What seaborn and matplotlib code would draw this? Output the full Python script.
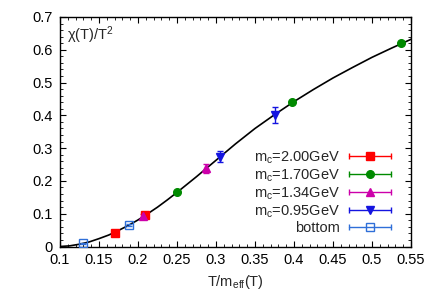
import numpy as np
import pandas as pd
import matplotlib
matplotlib.use('Agg')
import matplotlib.pyplot as plt
import seaborn as sns
from matplotlib.lines import Line2D
from matplotlib.legend_handler import HandlerBase
from matplotlib.ticker import MultipleLocator

# Style
sns.set_style('ticks')
plt.rcParams['font.family'] = ['Liberation Sans', 'DejaVu Sans']
plt.rcParams['mathtext.default'] = 'regular'

fontSize = 10.5

# Fitted curve
curveT = [0.100, 0.1125, 0.125, 0.1375, 0.150, 0.1625, 0.175, 0.1875, 0.200, 0.2125,
          0.225, 0.2375, 0.250, 0.275, 0.300, 0.325, 0.350, 0.375, 0.400, 0.425,
          0.450, 0.475, 0.500, 0.525, 0.550]
curveChi = [0.000, 0.002, 0.007, 0.014, 0.024, 0.035, 0.049, 0.064, 0.081, 0.100,
            0.120, 0.142, 0.165, 0.213, 0.263, 0.313, 0.360, 0.402, 0.442, 0.479,
            0.514, 0.546, 0.577, 0.605, 0.632]

# Data sets
labels = ['m$_{c}$=2.00GeV', 'm$_{c}$=1.70GeV', 'm$_{c}$=1.34GeV', 'm$_{c}$=0.95GeV', 'bottom']
colors = ['#ff0000', '#008a00', '#cc00aa', '#1414e0', '#2f6fd8']
markers = ['s', 'o', '^', 'v', 's']
filled = [True, True, True, True, False]

xVals = [[0.1705, 0.209], [0.2496, 0.3978, 0.537], [0.206, 0.2868], [0.305, 0.3756], [0.129, 0.1885]]
yVals = [[0.042, 0.095], [0.167, 0.440, 0.620], [0.092, 0.238], [0.274, 0.401], [0.010, 0.065]]
yErrs = [[0.003, 0.004], [0.003, 0.003, 0.004], [0.006, 0.014], [0.016, 0.023], [0.002, 0.003]]


class KeyHandler(HandlerBase):
    """gnuplot-like key sample: horizontal bar with caps and a marker"""
    def create_artists(self, legend, orig_handle, xdescent, ydescent, width, height, fontsize, trans):
        col = orig_handle.get_color()
        y = height / 2 - ydescent
        x0, x1 = -xdescent, width - xdescent
        bar = Line2D([x0, x1], [y, y], color=col, lw=1.0)
        caps = Line2D([x0, x1], [y, y], ls='none', marker='|', ms=5, mew=1.0, color=col)
        mark = Line2D([(x0 + x1) / 2], [y], ls='none', marker=orig_handle.get_marker(),
                      ms=orig_handle.get_markersize(), color=col,
                      mfc=orig_handle.get_markerfacecolor(), mec=col, mew=1.0)
        for a in (bar, caps, mark):
            a.set_transform(trans)
        return [bar, caps, mark]


fig = plt.figure(figsize=(4.36, 3.05), dpi=100)
ax = fig.add_axes([60 / 436, (305 - 246.5) / 305, 351 / 436, 229.5 / 305])

curveDf = pd.DataFrame({'T': curveT, 'chi': curveChi})
sns.lineplot(data=curveDf, x='T', y='chi', color='black', lw=1.2, ax=ax, zorder=2)

handles = []
for xs, ys, es, lab, col, mk, fl in zip(xVals, yVals, yErrs, labels, colors, markers, filled):
    ms = 6 if not fl else 5.5
    ax.errorbar(xs, ys, yerr=es, fmt=mk, color=col, ms=ms, mfc=col if fl else 'none',
                mec=col, mew=1.0, elinewidth=1.0, capsize=2.5, capthick=1.0, zorder=3)
    handles.append(Line2D([], [], color=col, marker=mk, ms=ms, mfc=col if fl else 'none', label=lab))

ax.set_xlim(0.1, 0.55)
ax.set_ylim(0, 0.7)
ax.xaxis.set_major_locator(MultipleLocator(0.05))
ax.xaxis.set_minor_locator(MultipleLocator(0.01))
ax.yaxis.set_major_locator(MultipleLocator(0.1))
ax.yaxis.set_minor_locator(MultipleLocator(0.02))
ax.xaxis.set_major_formatter(plt.FuncFormatter(lambda v, p: f'{v:g}'))
ax.yaxis.set_major_formatter(plt.FuncFormatter(lambda v, p: f'{v:g}'))
ax.tick_params(which='both', direction='in', top=True, right=True, color='black',
               labelsize=fontSize, labelcolor='black')
ax.tick_params(which='major', length=4, width=0.8, pad=5)
ax.tick_params(which='minor', length=2, width=0.6)
for sp in ax.spines.values():
    sp.set_visible(True)
    sp.set_color('black')
    sp.set_linewidth(1.0)

ax.set_xlabel('T/m$_{eff}$(T)', fontsize=fontSize, labelpad=4)
ax.set_ylabel('')
ax.text(0.02, 0.90, 'χ(T)/T$^{2}$', transform=ax.transAxes, fontsize=fontSize, va='baseline', ha='left')

leg = ax.legend(handles=handles, loc='lower right', bbox_to_anchor=(0.943, 0.05),
                markerfirst=False, frameon=False, fontsize=fontSize, handlelength=2.9,
                handletextpad=0.6, labelspacing=0.1, borderpad=0, borderaxespad=0,
                handler_map={Line2D: KeyHandler()})

fig.savefig('out.png', dpi=100)
